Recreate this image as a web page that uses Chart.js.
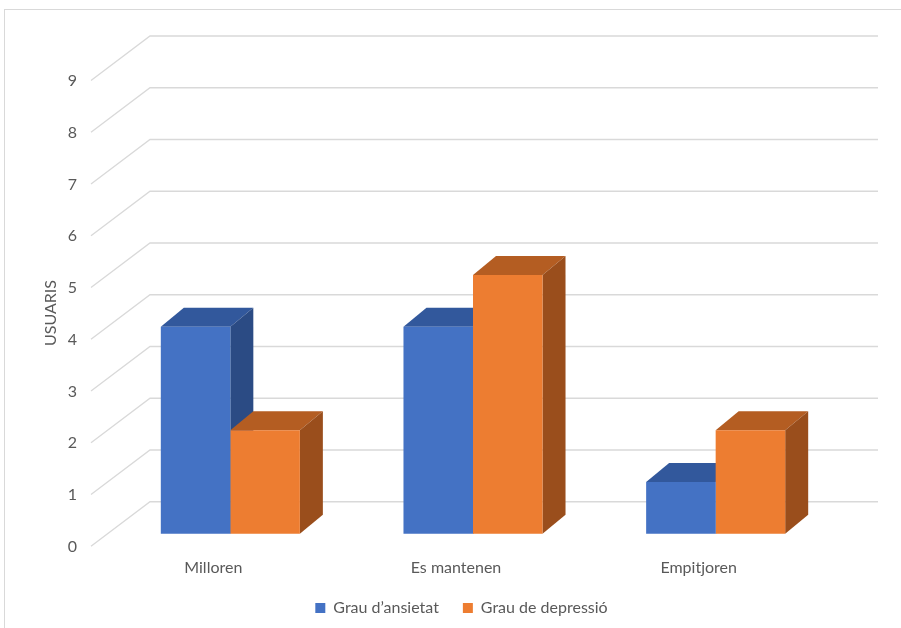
<!DOCTYPE html>
<html>
<head>
<meta charset="utf-8">
<script src="https://cdn.jsdelivr.net/npm/chart.js@4"></script>
<style>
  html, body { margin: 0; padding: 0; background: #fff; }
  canvas { display: block; }
</style>
</head>
<body>
<canvas id="chart" width="901" height="628"></canvas>
<script>
// Chart data
const categories = ['Milloren', 'Es mantenen', 'Empitjoren'];
const anxietyValues = [4, 4, 1];
const depressionValues = [2, 5, 2];
const seriesNames = ['Grau d\u2019ansietat', 'Grau de depressi\u00f3'];
const yTicks = [0, 1, 2, 3, 4, 5, 6, 7, 8, 9];

// Colors for front, top and side of each 3D bar
const faceColors = [
    { front: '#4472C4', top: '#32589C', side: '#2B4B84' },
    { front: '#ED7D31', top: '#B45D22', side: '#9A4E1C' },
];

// Draws the back wall grid and the top / side faces of the bars
const bars3d = {
    id: 'bars3d',
    beforeDraw(chart) {
        const ctx = chart.ctx;
        ctx.save();
        ctx.strokeStyle = '#D9D9D9';
        ctx.lineWidth = 1;
        ctx.strokeRect(4.5, 9.5, 1200, 1200);
        ctx.restore();
    },
    beforeDatasetsDraw(chart) {
        const { ctx, chartArea, scales } = chart;
        const y = scales.y;
        ctx.save();
        ctx.strokeStyle = '#D9D9D9';
        ctx.lineWidth = 1.3;
        y.ticks.forEach((tick) => {
            const py = y.getPixelForValue(tick.value);
            ctx.beginPath();
            ctx.moveTo(chartArea.left - 18, py + 12.5);
            ctx.lineTo(chartArea.left + 41, py - 32);
            ctx.lineTo(chartArea.right + 41, py - 32);
            ctx.stroke();
        });

        const dx = 23;
        const dy = 19;
        chart.data.datasets.forEach((ds, i) => {
            const meta = chart.getDatasetMeta(i);
            meta.data.forEach((bar) => {
                const { x, y: top, base, width } = bar.getProps(['x', 'y', 'base', 'width'], true);
                const l = x - width / 2;
                const r = x + width / 2;
                ctx.fillStyle = faceColors[i].top;
                ctx.beginPath();
                ctx.moveTo(l, top);
                ctx.lineTo(r, top);
                ctx.lineTo(r + dx, top - dy);
                ctx.lineTo(l + dx, top - dy);
                ctx.closePath();
                ctx.fill();
                ctx.fillStyle = faceColors[i].side;
                ctx.beginPath();
                ctx.moveTo(r, top);
                ctx.lineTo(r + dx, top - dy);
                ctx.lineTo(r + dx, base - dy);
                ctx.lineTo(r, base);
                ctx.closePath();
                ctx.fill();
            });
        });
        ctx.restore();
    },
};

Chart.defaults.font.family = 'Lato, "Liberation Sans", sans-serif';
Chart.defaults.font.size = 16;
Chart.defaults.color = '#595959';

new Chart(document.getElementById('chart'), {
    type: 'bar',
    data: {
        labels: categories,
        datasets: [
            {
                label: seriesNames[0],
                data: anxietyValues,
                backgroundColor: faceColors[0].front,
                borderWidth: 0,
            },
            {
                label: seriesNames[1],
                data: depressionValues,
                backgroundColor: faceColors[1].front,
                borderWidth: 0,
            },
        ],
    },
    options: {
        responsive: false,
        animation: false,
        barPercentage: 1,
        categoryPercentage: 0.573,
        layout: {
            padding: { top: 68, left: 40, right: 18, bottom: 2 },
        },
        plugins: {
            tooltip: { enabled: false },
            legend: {
                position: 'bottom',
                labels: {
                    boxWidth: 10,
                    boxHeight: 10,
                    padding: 24,
                },
            },
        },
        scales: {
            x: {
                grid: { display: false, drawTicks: false },
                border: { display: false },
                ticks: { padding: 0, labelOffset: -17 },
                afterFit: (scale) => { scale.height = 18; },
            },
            y: {
                // floor sits a bit below the bars' base in the 3D view
                min: -0.469,
                max: yTicks[yTicks.length - 1],
                grid: { display: false, drawTicks: false },
                border: { display: false },
                ticks: { padding: 32, labelOffset: 13 },
                afterBuildTicks: (scale) => {
                    scale.ticks = yTicks.map((v) => ({ value: v }));
                },
                title: {
                    display: true,
                    text: 'USUARIS',
                    padding: { top: 1, bottom: 4 },
                },
                afterFit: (scale) => { scale.width = 69; },
            },
            // empty space on the right where the back wall continues
            yRight: {
                position: 'right',
                grid: { display: false, drawTicks: false },
                border: { display: false },
                ticks: { display: false },
                afterFit: (scale) => { scale.width = 46; },
            },
        },
    },
    plugins: [bars3d],
});
</script>
</body>
</html>
